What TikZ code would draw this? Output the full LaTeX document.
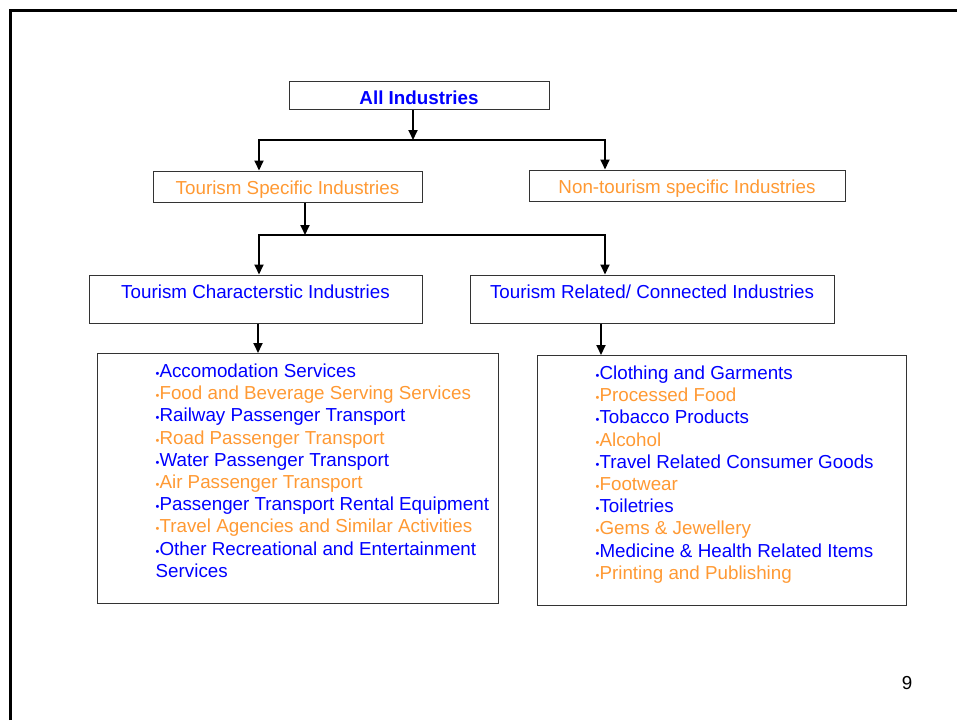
\documentclass[tikz,border=0pt]{standalone}
\usepackage{fontspec}
\setmainfont{Liberation Sans}
\usetikzlibrary{arrows.meta}

\definecolor{tblue}{RGB}{0,0,255}
\definecolor{torange}{RGB}{255,153,51}
\newcommand{\dotmark}{{\fontsize{11}{11}\selectfont\textbullet}}

\tikzset{
	catbox/.style={draw=black!80, line width=1pt, rectangle, inner xsep=0pt, inner ysep=0pt, text height=23pt, font=\fontsize{18.8}{18.8}\selectfont},
	listbox/.style={draw=black!80, line width=1pt, rectangle, inner sep=0pt, anchor=north west},
	itemtext/.style={anchor=base west, inner sep=0pt, font=\fontsize{18.8}{18.8}\selectfont},
	arrowline/.style={line width=1.8pt, -{Triangle[length=10pt,width=9pt]}},
	busline/.style={line width=1.8pt},
}

\begin{document}
\begin{tikzpicture}[x=1pt,y=-1pt]
	\useasboundingbox (0,0) rectangle (957,720);
	% slide frame
	\draw[line width=2.5pt] (10.5,720) -- (10.5,10.5) -- (957,10.5);

	% top levels
	\node[catbox, minimum width=260, text depth=5.5pt, text=tblue, font=\fontsize{18.8}{18.8}\selectfont\bfseries] (all) at (419,95.5) {All Industries};
	\node[catbox, minimum width=269, text depth=8pt, text=torange] (spec) at (287.5,186.5) {Tourism Specific Industries};
	\node[catbox, minimum width=316, text depth=8pt, text=torange] (nonspec) at (687,185.5) {Non-tourism specific Industries};
	\node[catbox, minimum width=333, text depth=25pt, text=tblue] (charac) at (255.5,299) {Tourism Characterstic Industries};
	\node[catbox, minimum width=364, text depth=25pt, text=tblue] (related) at (652,299) {Tourism Related/ Connected Industries};

	% list boxes
	\node[listbox, minimum width=401, minimum height=250] (tclist) at (97,353) {};
	\node[listbox, minimum width=369, minimum height=250] (trlist) at (537,355) {};

	% junctions
	\coordinate (j1) at (413,140);
	\coordinate (j1l) at (259,140);
	\coordinate (j1r) at (605,140);
	\coordinate (j2) at (305,235);
	\coordinate (j2l) at (259,235);
	\coordinate (j2r) at (605,235);

	% connectors
	\draw[arrowline] (all.south -| j1) -- (j1);
	\draw[busline] ([xshift=-0.9pt]j1l) -- ([xshift=0.9pt]j1r);
	\draw[arrowline] (j1l) -- (spec.north -| j1l);
	\draw[arrowline] (j1r) -- (nonspec.north -| j1r);

	\draw[arrowline] (spec.south -| j2) -- (j2);
	\draw[busline] ([xshift=-0.9pt]j2l) -- ([xshift=0.9pt]j2r);
	\draw[arrowline] (j2l) -- (charac.north -| j2l);
	\draw[arrowline] (j2r) -- (related.north -| j2r);

	\draw[arrowline] ([xshift=2.5pt]charac.south) -- ([xshift=2.5pt]charac.south |- tclist.north);
	\draw[arrowline] ([xshift=-51pt]related.south) -- ([xshift=-51pt]related.south |- trlist.north);

	% characteristic industries
	\foreach \t/\c [count=\i] in {Accomodation Services/tblue, Food and Beverage Serving Services/torange, Railway Passenger Transport/tblue, Road Passenger Transport/torange, Water Passenger Transport/tblue, Air Passenger Transport/torange, Passenger Transport Rental Equipment/tblue, Travel Agencies and Similar Activities/torange, Other Recreational and Entertainment/tblue}
		\node[itemtext, text=\c] (tc\i) at (155.5,{377.5+22.2*(\i-1)}) {\dotmark\t};
	\node[itemtext, text=tblue] (tc10) at (155.5,{377.5+22.2*9}) {Services};

	% related / connected industries
	\foreach \t/\c [count=\i] in {Clothing and Garments/tblue, Processed Food/torange, Tobacco Products/tblue, Alcohol/torange, Travel Related Consumer Goods/tblue, Footwear/torange, Toiletries/tblue, Gems \& Jewellery/torange, Medicine \& Health Related Items/tblue, Printing and Publishing/torange}
		\node[itemtext, text=\c] (tr\i) at (595.5,{379.5+22.2*(\i-1)}) {\dotmark\t};

	% page number
	\node[inner sep=0pt, anchor=base, font=\fontsize{18.8}{18.8}\selectfont] (pagenum) at (907,689) {9};
\end{tikzpicture}
\end{document}
